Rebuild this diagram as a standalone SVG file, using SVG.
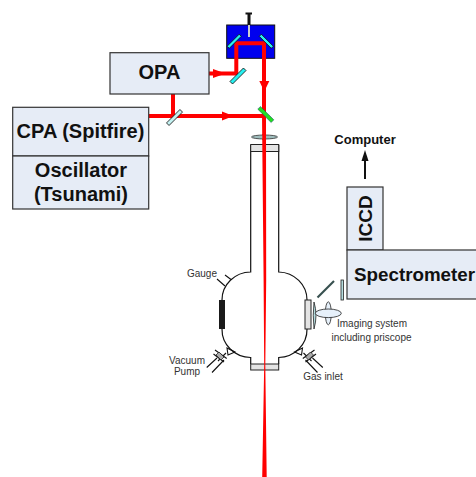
<svg xmlns="http://www.w3.org/2000/svg" width="476" height="477" viewBox="0 0 476 477">
<style>
.box{fill:#e6ecf6;stroke:#333;stroke-width:1.2}
.big{font-family:"Liberation Sans",Arial,sans-serif;font-weight:bold;fill:#111;text-anchor:middle}
.small{font-family:"Liberation Sans",Arial,sans-serif;font-size:10px;fill:#333;text-anchor:middle}
.beam{fill:none;stroke:#f00;stroke-width:4}
.wall{fill:none;stroke:#111;stroke-width:1.2}
.thin{fill:none;stroke:#111;stroke-width:1.1}
.cyan{fill:#25f0f0;stroke:#111;stroke-width:.8}
.pale{fill:#c4f2f2;stroke:#111;stroke-width:.8}
.win{fill:#e4e4e4;stroke:#222;stroke-width:1}
.optic{fill:#b5dcdf;stroke:#222;stroke-width:.8}
.gray{fill:#aaa;stroke:#111;stroke-width:.7}
</style>
<defs>
<g id="valve">
<path class="thin" d="M227 348L235 352L228 355ZM226 353L218 361M215 350L226.700 358.500M213.500 354L224 362M217 358L206.700 367.500M224 360L212 372.500"/>
<path class="gray" d="M219 352L224 357L221 360L216 355Z"/>
</g>
</defs>
<g id="delay-stage">
<rect x="226.700" y="25" width="48" height="33.300" fill="#0000ee" stroke="#111"/>
<rect x="248" y="25" width="2" height="12" fill="#ccc"/>
<rect x="247.500" y="14" width="3" height="11" fill="#111"/>
<rect x="245.500" y="12.500" width="6.500" height="2" fill="#111"/>
</g>
<g id="chamber">
<path class="wall" d="M250.700 145V272A29 28 0 0 0 222 300V329A29 28 0 0 0 250.700 357.500V364"/>
<path class="wall" d="M278.700 145V272A29 28 0 0 1 307 300M307 329A29 28 0 0 1 278.700 357.500V364"/>
<rect x="250.700" y="144.500" width="28" height="7" class="win"/>
<rect x="250.700" y="364" width="28" height="6" class="win"/>
<rect x="219" y="300" width="6" height="29" fill="#1a1a1a"/>
<rect x="305" y="300" width="6" height="29" class="win"/>
<path class="thin" d="M217 279L225 286M225 275L231 279.500"/>
</g>
<g id="connectors">
<path class="beam" d="M209 73.500H236.300V43.300H264V115"/>
<path class="beam" d="M149 116H264"/>
<path class="beam" d="M173 94V116"/>
<path d="M262 115H266L266.200 280L265.300 365L266.700 477H262.200L264.200 365L263.600 280Z" fill="#f00"/>
<path d="M213 69L225.500 73.500L213 78Z" fill="#f00"/>
<path d="M222 111.500L233.500 116L222 120.500Z" fill="#f00"/>
<path d="M259.300 81H269.300L264.300 91.500Z" fill="#f00"/>
<path d="M365 179V158" stroke="#111" stroke-width="2" fill="none"/>
<path d="M361.500 161L365 150L368.500 161Z" fill="#111"/>
</g>
<g id="delay-mirrors">
<rect x="-8.500" y="-1.500" width="17" height="3" class="cyan" transform="translate(234.200 41.300) rotate(-45)"/>
<rect x="-8.500" y="-1.500" width="17" height="3" class="cyan" transform="translate(266.300 41.300) rotate(45)"/>
</g>
<g id="opa-mirror"><rect x="-9.500" y="-1.800" width="19" height="3.600" class="cyan" transform="translate(238 76) rotate(-45)"/></g>
<g id="beamsplitter"><rect x="-9.500" y="-1.800" width="19" height="3.600" class="pale" transform="translate(174.500 117.500) rotate(-45)"/></g>
<g id="dichroic"><rect x="-9.500" y="-1.900" width="19" height="3.800" fill="#22dd22" stroke="#127" stroke-width=".4" transform="translate(265.800 114.500) rotate(45)"/></g>
<g id="focus-lens"><ellipse cx="264.500" cy="137" rx="13" ry="2" fill="#9fbdbd" stroke="#333" stroke-width=".8"/><rect x="262.300" y="134" width="3.700" height="6" fill="#f00"/></g>
<g id="opa"><rect x="110" y="52.700" width="99" height="41.300" class="box"/><text x="159.500" y="79" class="big" font-size="20">OPA</text></g>
<g id="cpa"><rect x="12.700" y="107.300" width="136" height="48.700" class="box"/><text x="80.500" y="138" class="big" font-size="20">CPA (Spitfire)</text></g>
<g id="oscillator"><rect x="12.700" y="156" width="136" height="53" class="box"/><text x="81" y="177" class="big" font-size="20">Oscillator</text><text x="81" y="201" class="big" font-size="20">(Tsunami)</text></g>
<g id="iccd"><rect x="347" y="187" width="36" height="63" class="box"/><text transform="translate(371.500 218.500) rotate(-90)" class="big" font-size="19">ICCD</text></g>
<g id="spectrometer"><rect x="347" y="250" width="135" height="49" class="box"/><text x="354" y="281" class="big" font-size="18.800" style="text-anchor:start">Spectrometer</text></g>
<g id="imaging">
<path d="M317.500 297.500L334 281" stroke="#37504f" stroke-width="2.200"/>
<rect x="341" y="280" width="2.500" height="20" class="optic"/>
<path d="M314 302Q318 315 314 329Q312.500 315 314 302Z" class="optic"/>
<ellipse cx="328.300" cy="313.300" rx="3" ry="11.500" fill="#e6f0fa" stroke="#222" stroke-width=".8"/>
<ellipse cx="328.300" cy="313.300" rx="13" ry="4.300" fill="#e6f0fa" stroke="#222" stroke-width=".8"/>
</g>
<g id="pump-valve"><use href="#valve"/></g>
<g id="gas-valve"><use href="#valve" transform="translate(529.500 0) scale(-1 1)"/></g>
<g id="labels">
<text x="217" y="277" class="small" style="text-anchor:end">Gauge</text>
<text x="187" y="364" class="small">Vacuum</text>
<text x="187" y="375" class="small">Pump</text>
<text x="323" y="380" class="small">Gas inlet</text>
<text x="372" y="327" class="small">Imaging system</text>
<text x="371.500" y="341" class="small">including priscope</text>
<text x="365" y="143.500" class="big" font-size="13">Computer</text>
</g>
</svg>
